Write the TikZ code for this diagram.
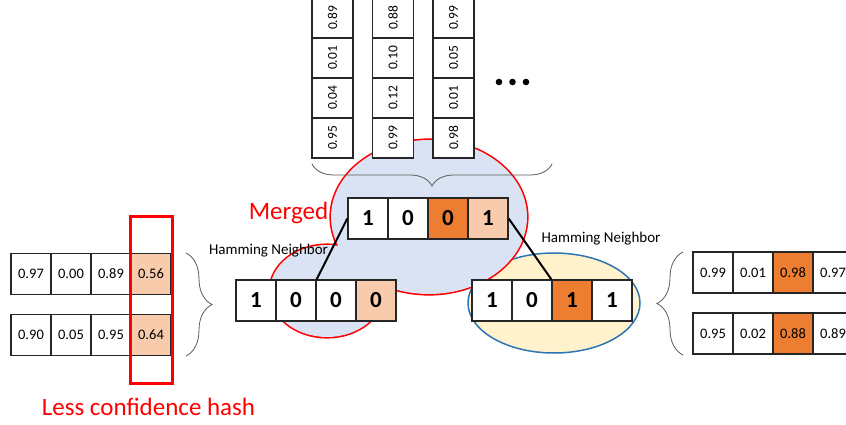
\documentclass[tikz,border=0pt]{standalone}
\usepackage{fontspec}
\setmainfont{Carlito}
\usetikzlibrary{decorations.pathreplacing}
\definecolor{orng}{HTML}{ED7D31}
\definecolor{lorng}{HTML}{F8CBAD}
\definecolor{bfill}{HTML}{DAE3F3}
\definecolor{yfill}{HTML}{FFF2CC}
\definecolor{bline}{HTML}{2E75B6}
\definecolor{braceg}{HTML}{595959}
\definecolor{cellline}{HTML}{262626}
\begin{document}
\begin{tikzpicture}[x=1pt,y=-1pt,
  cell/.style={draw=cellline, line width=1.3pt, minimum width=40pt, minimum height=41pt, inner sep=0pt, font=\fontsize{14.5}{15}\selectfont},
  vcell/.style={draw=cellline, line width=1.3pt, minimum width=41pt, minimum height=40pt, inner sep=0pt, font=\fontsize{13}{14}\selectfont},
  vtxt/.style={rotate=90, inner sep=0pt, font=\fontsize{13.5}{14}\selectfont},
  bit/.style={cell, font=\fontsize{23}{24}\selectfont\bfseries},
  hot/.style={fill=orng},
  warm/.style={fill=lorng},
  plain/.style={fill=white},
  bracestyle/.style={draw=braceg, line width=0.8pt, decorate},
  lbl/.style={inner sep=0pt, font=\fontsize{15}{16}\selectfont},
  redlbl/.style={inner sep=0pt, text=red, font=\fontsize{25}{26}\selectfont}]
\useasboundingbox (0,0) rectangle (846,425);

% ellipses
\draw[bline, line width=1.5pt, fill=yfill] (554,303) ellipse [x radius=86, y radius=50];
\draw[red, line width=3.2pt] (429,217) ellipse [x radius=98, y radius=77];
\draw[red, line width=3.2pt] (327,291) ellipse [x radius=57, y radius=46];
\fill[bfill] (429,217) ellipse [x radius=98, y radius=77];
\fill[bfill] (327,291) ellipse [x radius=57, y radius=46];

% top columns
\foreach \cx/\ci/\a/\b/\c/\d in {332.5/1/0.89/0.01/0.04/0.95, 393/2/0.88/0.10/0.12/0.99, 453.5/3/0.99/0.05/0.01/0.98}{
  \node[vcell, plain] (c\ci1) at (\cx,18) {};
  \node[vtxt] at (c\ci1) {\a};
  \node[vcell, plain] (c\ci2) at (\cx,58) {};
  \node[vtxt] at (c\ci2) {\b};
  \node[vcell, plain] (c\ci3) at (\cx,98) {};
  \node[vtxt] at (c\ci3) {\c};
  \node[vcell, plain] (c\ci4) at (\cx,138) {};
  \node[vtxt] at (c\ci4) {\d};
}
% dots
\fill (499,82) circle (3.3pt);
\fill (512.5,82) circle (3.3pt);
\fill (526,82) circle (3.3pt);

% top brace
\coordinate (tb1) at (312,164);
\coordinate (tb2) at (552,164);
\draw[bracestyle, decoration={brace, mirror, amplitude=22pt}] (tb1) -- (tb2);

% merged row
\node[bit, plain] (m1) at (368,218.5) {1};
\node[bit, plain] (m2) at (408,218.5) {0};
\node[bit, hot]   (m3) at (448,218.5) {0};
\node[bit, warm]  (m4) at (488,218.5) {1};

% left bit row
\node[bit, plain] (l1) at (256,300.5) {1};
\node[bit, plain] (l2) at (296,300.5) {0};
\node[bit, plain] (l3) at (336,300.5) {0};
\node[bit, warm]  (l4) at (376,300.5) {0};

% right bit row
\node[bit, plain] (r1) at (492,300.5) {1};
\node[bit, plain] (r2) at (532,300.5) {0};
\node[bit, hot]   (r3) at (572,300.5) {1};
\node[bit, plain] (r4) at (612,300.5) {1};

% connectors
\draw[line width=2pt] (m1.west) -- (l2.north east);
\draw[line width=2pt] (m4.east) -- (r3.north west);

% labels
\node[redlbl] (merged) at (288.5,213) {Merged};
\node[lbl] (hnl) at (268.5,251) {Hamming Neighbor};
\node[lbl] (hnr) at (601,239) {Hamming Neighbor};

% left rows
\node[cell, plain] (a1) at (31,274) {0.97};
\node[cell, plain] (a2) at (71,274) {0.00};
\node[cell, plain] (a3) at (111,274) {0.89};
\node[cell, warm]  (a4) at (151,274) {0.56};
\node[cell, plain] (b1) at (31,335) {0.90};
\node[cell, plain] (b2) at (71,335) {0.05};
\node[cell, plain] (b3) at (111,335) {0.95};
\node[cell, warm]  (b4) at (151,335) {0.64};
\node[draw=red, line width=3pt, minimum width=42pt, minimum height=167pt, inner sep=0pt] (conf) at (151,299.5) {};
\node[redlbl] (lch) at (148.5,407) {Less confidence hash};

% left brace
\coordinate (lb1) at (186,253);
\coordinate (lb2) at (186,356);
\draw[bracestyle, decoration={brace, amplitude=26pt}] (lb1) -- (lb2);

% right rows
\node[cell, plain] (d1) at (713,272.5) {0.99};
\node[cell, plain] (d2) at (753,272.5) {0.01};
\node[cell, hot]   (d3) at (793,272.5) {0.98};
\node[cell, plain] (d4) at (833,272.5) {0.97};
\node[cell, plain] (e1) at (713,333.5) {0.95};
\node[cell, plain] (e2) at (753,333.5) {0.02};
\node[cell, hot]   (e3) at (793,333.5) {0.88};
\node[cell, plain] (e4) at (833,333.5) {0.89};

% right brace
\coordinate (rb1) at (683,252);
\coordinate (rb2) at (683,355);
\draw[bracestyle, decoration={brace, mirror, amplitude=26pt}] (rb1) -- (rb2);
\end{tikzpicture}
\end{document}
